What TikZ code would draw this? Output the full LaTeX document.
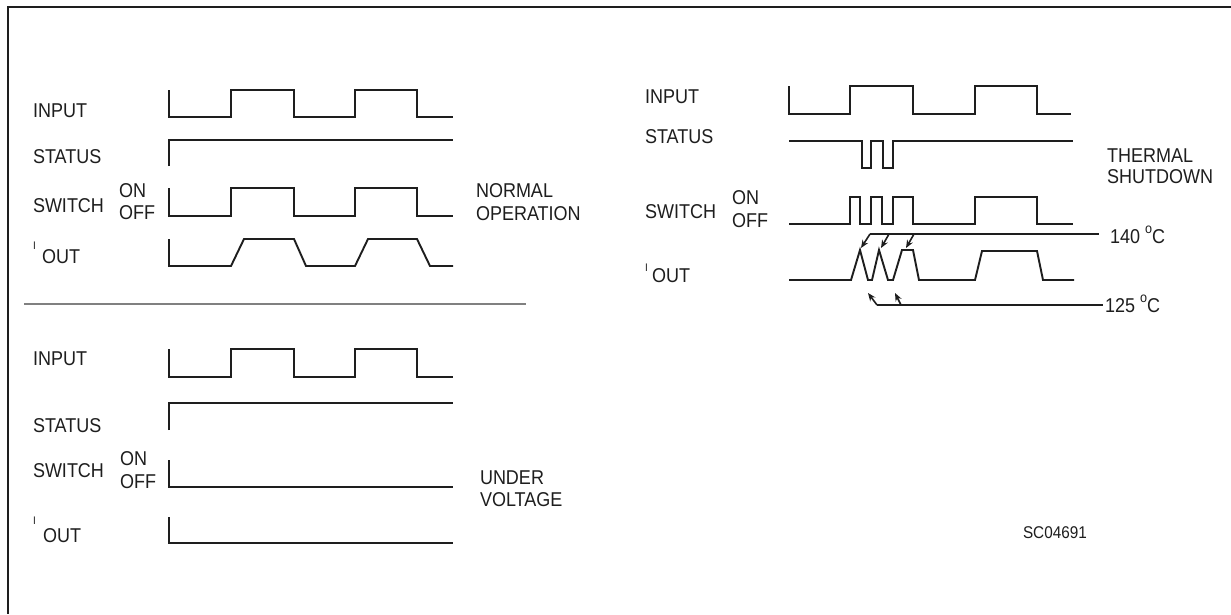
\documentclass[tikz,border=0pt]{standalone}
\usepackage{fontspec}
\setmainfont{Liberation Sans}[FakeStretch=0.9]
\usetikzlibrary{arrows.meta}
\definecolor{ink}{HTML}{1E1E1E}
\tikzset{
  lbl/.style={anchor=base west, inner sep=0pt, outer sep=0pt, text=ink, font=\fontsize{20}{24}\selectfont},
  small/.style={anchor=base west, inner sep=0pt, outer sep=0pt, text=ink, font=\fontsize{11}{11}\selectfont},
  code/.style={anchor=base west, inner sep=0pt, outer sep=0pt, text=ink, font=\fontsize{17}{20}\selectfont},
  wave/.style={draw=ink, line width=1.9pt, line join=miter},
  swave/.style={draw=ink, line width=2.4pt, line join=miter},
  frame/.style={draw=ink, line width=2pt},
  sep/.style={draw=black!50, line width=1.5pt},
  tarrow/.style={draw=ink, line width=1.6pt, -{Stealth[length=8pt,width=6.5pt]}},
}
\newcommand{\degC}{\hspace{5pt}\raisebox{10pt}{\fontsize{14}{14}\selectfont o}C}
\begin{document}
\begin{tikzpicture}[x=1pt,y=-1pt]
\useasboundingbox (0,0) rectangle (1231,614);
\fill[white] (0,0) rectangle (1231,614);
% frame (top and left edges)
\draw[frame] (1231,7) -- (8,7) -- (8,614);

% ---------- top-left: NORMAL OPERATION ----------
\node[lbl] (n-in) at (33,117) {INPUT};
\node[lbl] (n-st) at (33,163) {STATUS};
\node[lbl] (n-sw) at (33,212) {SWITCH};
\node[lbl] (n-on) at (119,197) {ON};
\node[lbl] (n-off) at (119,219) {OFF};
\node[small] (n-i) at (33,249) {I};
\node[lbl] (n-out) at (42,263) {OUT};
\node[lbl] (n-nor) at (476,197) {NORMAL};
\node[lbl] (n-op) at (476,220) {OPERATION};

\draw[wave] (169,90)--(169,117)--(231,117)--(231,90)--(294,90)--(294,117)--(355,117)--(355,90)--(417,90)--(417,117)--(453,117);
\draw[wave] (169,166)--(169,140)--(453,140);
\draw[swave] (169,188)--(169,216)--(231,216)--(231,188)--(294,188)--(294,216)--(355,216)--(355,188)--(417,188)--(417,216)--(453,216);
\draw[wave] (169,239)--(169,266)--(231,266)--(244,239)--(294,239)--(306,266)--(355,266)--(368,239)--(417,239)--(430,266)--(453,266);

% separator
\draw[sep] (24,304) -- (526,304);

% ---------- bottom-left: UNDER VOLTAGE ----------
\node[lbl] (u-in) at (33,365) {INPUT};
\node[lbl] (u-st) at (33,432) {STATUS};
\node[lbl] (u-sw) at (33,477) {SWITCH};
\node[lbl] (u-on) at (120,465) {ON};
\node[lbl] (u-off) at (120,488) {OFF};
\node[small] (u-i) at (33,524) {I};
\node[lbl] (u-out) at (43,542) {OUT};
\node[lbl] (u-und) at (480,484) {UNDER};
\node[lbl] (u-vol) at (480,506) {VOLTAGE};

\draw[wave] (169,349)--(169,377)--(231,377)--(231,349)--(294,349)--(294,377)--(355,377)--(355,349)--(417,349)--(417,377)--(453,377);
\draw[wave] (169,430)--(169,403)--(453,403);
\draw[swave] (169,460)--(169,487)--(453,487);
\draw[wave] (169,517)--(169,543)--(453,543);

% ---------- right: THERMAL SHUTDOWN ----------
\node[lbl] (t-in) at (645,103) {INPUT};
\node[lbl] (t-st) at (645,143) {STATUS};
\node[lbl] (t-sw) at (645,218) {SWITCH};
\node[lbl] (t-on) at (732,204) {ON};
\node[lbl] (t-off) at (732,227) {OFF};
\node[small] (t-i) at (645,271) {I};
\node[lbl] (t-out) at (652,282) {OUT};
\node[lbl] (t-th) at (1107,162) {THERMAL};
\node[lbl] (t-sh) at (1107,183) {SHUTDOWN};
\node[lbl] (t-140) at (1110,243) {140\degC};
\node[lbl] (t-125) at (1105,312) {125\degC};

\draw[wave] (789,86)--(789,114)--(850,114)--(850,86)--(913,86)--(913,114)--(975,114)--(975,86)--(1037,86)--(1037,114)--(1071,114);
\draw[wave] (789,141)--(862,141)--(862,168)--(871,168)--(871,141)--(883,141)--(883,168)--(893,168)--(893,141)--(1073,141);
\draw[swave] (789,224)--(850,224)--(850,197)--(860,197)--(860,224)--(871,224)--(871,197)--(882,197)--(882,224)--(893,224)--(893,197)--(913,197)--(913,224)--(975,224)--(975,197)--(1037,197)--(1037,224)--(1073,224);
\draw[wave] (789,280)--(851,280)--(860,250)--(868,280)--(872,280)--(879,250)--(888,280)--(893,280)--(902,250)--(913,250)--(919,280)--(975,280)--(982,251)--(1037,251)--(1043,280)--(1074,280);

% 140 C threshold
\coordinate (h0) at (870,234);
\coordinate (h1) at (1099,234);
\coordinate (h2) at (889,234);
\coordinate (h3) at (914,234);
\draw[wave, line width=1.6pt] (h0) -- (h1);
\draw[tarrow] (h0) -- (861,248);
\draw[tarrow] (h2) -- (881,248);
\draw[tarrow] (h3) -- (906,248);

% 125 C threshold
\coordinate (l0) at (877,305);
\coordinate (l1) at (1103,305);
\coordinate (l2) at (901,305);
\draw[wave, line width=1.6pt] (l0) -- (l1);
\draw[tarrow] (l0) -- (868,293);
\draw[tarrow] (l2) -- (895,293);

\node[code] (code) at (1023,538) {SC04691};
\end{tikzpicture}
\end{document}
